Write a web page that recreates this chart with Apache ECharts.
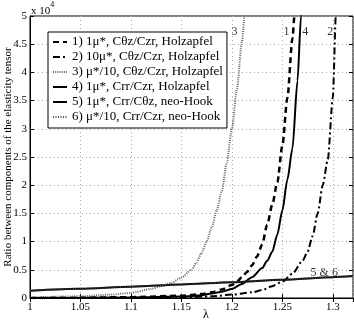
<!DOCTYPE html>
<html>
<head>
<meta charset="utf-8">
<script src="https://cdn.jsdelivr.net/npm/echarts@6/dist/echarts.min.js"></script>
<style>
  html, body { margin: 0; padding: 0; background: #fff; }
  #chart { width: 354px; height: 324px; }
</style>
</head>
<body>
<div id="chart"></div>
<script>
// values in units of 1e4
var lam1 = [1.0, 1.05, 1.1, 1.15, 1.17, 1.18, 1.19, 1.2, 1.205, 1.21, 1.215, 1.22, 1.225, 1.23, 1.235, 1.24, 1.245, 1.25, 1.255, 1.26, 1.262, 1.265];
var val1 = [0.0, 0.005, 0.015, 0.04, 0.07, 0.1, 0.15, 0.23, 0.29, 0.37, 0.46, 0.58, 0.74, 0.95, 1.3, 1.65, 2.05, 2.7, 3.55, 4.6, 5.0, 5.7];

var lam2 = [1.0, 1.1, 1.15, 1.18, 1.2, 1.22, 1.23, 1.24, 1.25, 1.26, 1.27, 1.275, 1.28, 1.285, 1.29, 1.295, 1.3, 1.303, 1.305];
var val2 = [0.0, 0.003, 0.01, 0.03, 0.06, 0.1, 0.14, 0.21, 0.29, 0.43, 0.66, 0.82, 1.1, 1.5, 2.0, 2.45, 3.55, 5.0, 5.8];

var lam3 = [1.0, 1.05, 1.08, 1.1, 1.12, 1.13, 1.14, 1.15, 1.16, 1.165, 1.17, 1.175, 1.18, 1.185, 1.19, 1.195, 1.2, 1.205, 1.21, 1.2125, 1.215];
var val3 = [0.01, 0.03, 0.06, 0.09, 0.16, 0.21, 0.27, 0.36, 0.5, 0.63, 0.8, 1.0, 1.25, 1.55, 1.9, 2.4, 3.0, 3.7, 4.55, 5.0, 5.6];

var lam4 = [1.0, 1.05, 1.1, 1.15, 1.17, 1.18, 1.19, 1.2, 1.21, 1.22, 1.23, 1.235, 1.24, 1.245, 1.25, 1.255, 1.26, 1.265, 1.2685, 1.271];
var val4 = [0.0, 0.003, 0.008, 0.025, 0.05, 0.08, 0.11, 0.16, 0.25, 0.37, 0.53, 0.66, 0.82, 1.12, 1.55, 2.1, 2.65, 3.85, 5.0, 5.7];

var lam56 = [1.0, 1.05, 1.1, 1.15, 1.2, 1.25, 1.3, 1.32];
var val56 = [0.13, 0.165, 0.2, 0.24, 0.28, 0.325, 0.37, 0.39];

var seriesNames = [
  "1) 1\u03bc*, C\u03b8z/Czr, Holzapfel",
  "2) 10\u03bc*, C\u03b8z/Czr, Holzapfel",
  "3) \u03bc*/10, C\u03b8z/Czr, Holzapfel",
  "4) 1\u03bc*, Crr/Czr, Holzapfel",
  "5) 1\u03bc*, Crr/C\u03b8z, neo-Hook",
  "6) \u03bc*/10, Crr/Czr, neo-Hook"
];

var xTicks = [1, 1.05, 1.1, 1.15, 1.2, 1.25, 1.3];
var yTicks = [0, 0.5, 1, 1.5, 2, 2.5, 3, 3.5, 4, 4.5, 5];

// curve annotations
var noteText = ["3", "1", "4", "2", "5 & 6"];
var noteX = [1.2026, 1.254, 1.2727, 1.2974, 1.2915];
var noteY = [4.72, 4.72, 4.72, 4.72, 0.44];

function pairs(xs, ys) {
  var out = [];
  for (var i = 0; i < xs.length; i++) out.push([xs[i], ys[i]]);
  return out;
}

var serif = "Liberation Serif";
var myChart = echarts.init(document.getElementById("chart"));

function lineSeries(name, data, color, width, type) {
  return {
    name: name,
    type: "line",
    data: data,
    symbol: "none",
    smooth: 0.25,
    smoothMonotone: "x",
    silent: true,
    color: color,
    itemStyle: { color: color },
    lineStyle: { color: color, width: width, type: type }
  };
}

var notes = [];
for (var i = 0; i < noteText.length; i++) {
  notes.push({ value: [noteX[i], noteY[i]], name: noteText[i] });
}

var option = {
  backgroundColor: "#fff",
  animation: false,
  grid: {
    left: 30,
    right: 1,
    top: 16,
    bottom: 26,
    outerBoundsMode: "none",
    show: true,
    borderColor: "#000",
    borderWidth: 1
  },
  legend: {
    orient: "vertical",
    left: 48,
    top: 32,
    padding: [3, 4, 4, 4],
    itemWidth: 14,
    itemHeight: 14,
    itemGap: 1,
    backgroundColor: "#fff",
    borderColor: "#000",
    borderWidth: 1,
    itemStyle: { opacity: 0 },
    data: seriesNames,
    textStyle: { fontFamily: serif, fontSize: 13, color: "#000", lineHeight: 14 }
  },
  xAxis: [
    {
      type: "value",
      min: 1,
      max: 1.32,
      interval: 0.05,
      axisLine: { show: true, onZero: false, lineStyle: { color: "#000" } },
      axisTick: { inside: true, length: 4, lineStyle: { color: "#000" } },
      axisLabel: {
        showMaxLabel: false,
        margin: 4,
        fontFamily: serif,
        fontSize: 11,
        color: "#000",
        formatter: function(v) {
          var r = Math.round(v * 100) / 100;
          return xTicks.indexOf(r) >= 0 ? String(r) : "";
        }
      },
      splitLine: { show: true, lineStyle: { color: "#aaa", type: [1, 3] } }
    },
    {
      type: "value",
      position: "top",
      min: 1,
      max: 1.32,
      interval: 0.05,
      axisLine: { show: false },
      axisTick: { inside: true, length: 4, lineStyle: { color: "#000" } },
      axisLabel: { show: false },
      splitLine: { show: false }
    }
  ],
  yAxis: [
    {
      type: "value",
      min: 0,
      max: 5,
      interval: 0.5,
      name: "Ratio between components of the elasticity tensor",
      nameLocation: "middle",
      nameGap: 16,
      nameMoveOverlap: false,
      nameTextStyle: { fontFamily: serif, fontSize: 11, color: "#000" },
      axisLine: { show: true, lineStyle: { color: "#000" } },
      axisTick: { inside: true, length: 4, lineStyle: { color: "#000" } },
      axisLabel: {
        margin: 3,
        showMaxLabel: true,
        fontFamily: serif,
        fontSize: 11,
        color: "#000",
        formatter: function(v) {
          return yTicks.indexOf(v) >= 0 ? String(v) : "";
        }
      },
      splitLine: { show: true, lineStyle: { color: "#aaa", type: [1, 3] } }
    },
    {
      type: "value",
      position: "right",
      min: 0,
      max: 5,
      interval: 0.5,
      axisLine: { show: false },
      axisTick: { inside: true, length: 4, lineStyle: { color: "#000" } },
      axisLabel: { show: false },
      splitLine: { show: false }
    }
  ],
  graphic: [
    {
      type: "text",
      left: 31,
      top: 1,
      style: {
        text: "{a|x 10}{b|4}",
        rich: {
          a: { fontFamily: serif, fontSize: 11, fill: "#000", padding: [5, 0, 0, 0] },
          b: { fontFamily: serif, fontSize: 8, fill: "#000", verticalAlign: "top" }
        }
      }
    },
    {
      type: "text",
      left: 203,
      top: 309,
      style: { text: "\u03bb", fontFamily: serif, fontSize: 12, fill: "#000" }
    }
  ],
  series: [
    lineSeries(seriesNames[0], pairs(lam1, val1), "#000", 2.5, [6, 4]),
    lineSeries(seriesNames[1], pairs(lam2, val2), "#000", 2, [7, 3, 2, 3]),
    lineSeries(seriesNames[2], pairs(lam3, val3), "#666", 2, [1, 1.2]),
    lineSeries(seriesNames[3], pairs(lam4, val4), "#000", 2, "solid"),
    lineSeries(seriesNames[4], pairs(lam56, val56), "#000", 2, "solid"),
    lineSeries(seriesNames[5], pairs(lam56, val56), "#444", 2, [1, 1.5]),
    {
      name: "notes",
      type: "scatter",
      data: notes,
      symbolSize: 0,
      silent: true,
      label: {
        show: true,
        position: "inside",
        formatter: "{b}",
        fontFamily: serif,
        fontSize: 12,
        color: "#000"
      }
    }
  ]
};

myChart.setOption(option);
</script>
</body>
</html>
